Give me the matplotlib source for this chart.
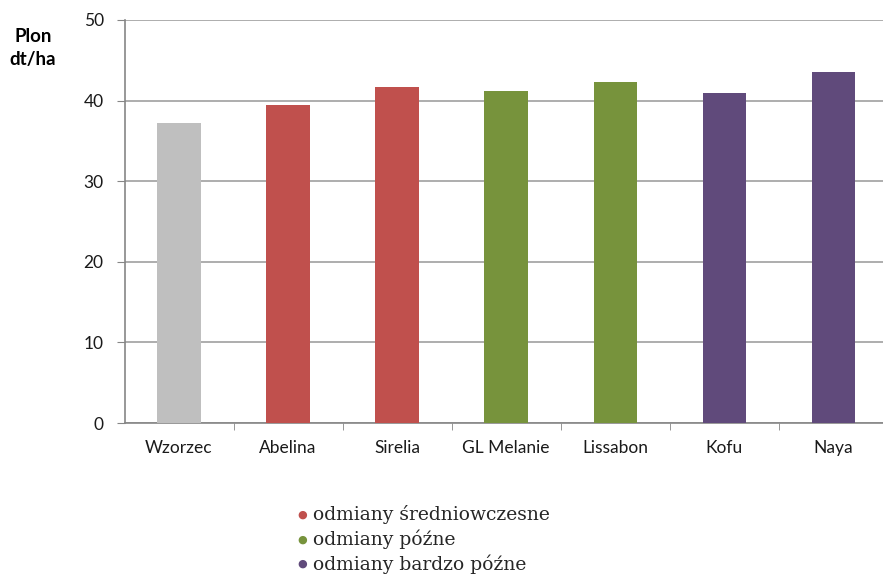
import numpy as np
import matplotlib.pyplot as plt

# plon odmian, dt/ha
odmiany = ["Wzorzec", "Abelina", "Sirelia", "GL Melanie", "Lissabon", "Kofu", "Naya"]
plon = [37.2, 39.4, 41.7, 41.2, 42.3, 40.9, 43.6]
grupa = [0, 1, 1, 2, 2, 3, 3]
kolory = ["#bfbfbf", "#c0504d", "#77933c", "#604a7b"]
legenda = ["odmiany średniowczesne", "odmiany późne", "odmiany bardzo późne"]
y_ticks = [0, 10, 20, 30, 40, 50]

plt.rcParams['font.family'] = ['Lato', 'DejaVu Sans']

fig = plt.figure(figsize=(8.83, 5.74), dpi=100)
ax = fig.add_axes([124.5 / 883, 1 - 423 / 574, 763.5 / 883, 403 / 574])

x = np.arange(len(odmiany))
ax.bar(x, plon, width=0.4, color=[kolory[g] for g in grupa], zorder=3)

ax.set_xlim(-0.5, len(odmiany) - 0.5)
ax.set_ylim(0, 50)
ax.set_yticks(y_ticks)
ax.tick_params(axis='y', length=6, color='#868686', labelsize=12.5, pad=9,
               labelcolor='#1a1a1a')
ax.yaxis.grid(True, color='#a0a0a0', linewidth=1.2, zorder=0)

ax.set_xticks(x)
ax.set_xticklabels(odmiany, fontsize=12.5, color='#1a1a1a')
ax.tick_params(axis='x', length=0, pad=12)
ax.set_xticks(np.arange(1, len(odmiany)) - 0.5, minor=True)
ax.tick_params(axis='x', which='minor', length=5, color='#868686')

for s in ['top', 'right']:
    ax.spines[s].set_visible(False)
for s in ['left', 'bottom']:
    ax.spines[s].set_color('#868686')
    ax.spines[s].set_linewidth(1.2)

fig.text(33 / 883, 1 - 48 / 574, "Plon\ndt/ha", ha='center', va='center',
         fontsize=13.5, fontweight='bold', linespacing=1.5)

for i, t in enumerate(legenda):
    yy = 1 - (515 + i * 24.5) / 574
    fig.text(302 / 883, yy, "●", color=kolory[i + 1], fontsize=8,
             ha='center', va='center', family='DejaVu Sans')
    fig.text(313 / 883, yy, t, color='#262626', fontsize=13.5,
             va='center', family='DejaVu Serif')

fig.savefig("out.png", dpi=100)
